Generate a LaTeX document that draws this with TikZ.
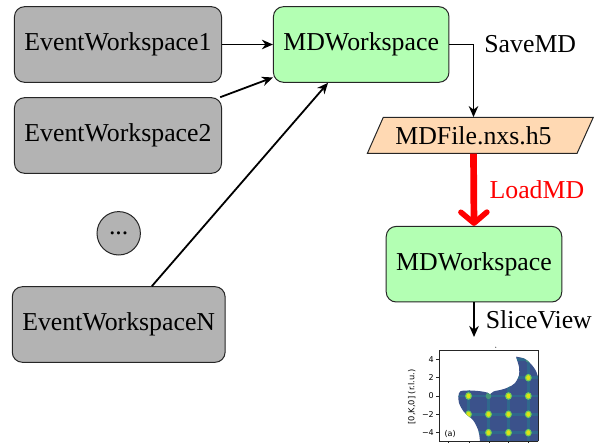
\documentclass[tikz,border=0pt]{standalone}
\usepackage{fontspec}
\setmainfont{Liberation Serif}
\newfontfamily\plotfont{DejaVu Sans}
\usetikzlibrary{arrows.meta}
\definecolor{boxgray}{HTML}{B3B3B3}
\definecolor{boxgreen}{HTML}{B3FFB3}
\definecolor{boxpeach}{HTML}{FFD9B3}
\definecolor{vbase}{HTML}{3B528B}
\definecolor{vgrid}{HTML}{2C728E}
\definecolor{vglow}{HTML}{6ECE58}
\definecolor{vspot}{HTML}{DDE318}
\tikzset{
  ws/.style={draw=black!85, line width=1pt, rounded corners=10pt, minimum height=75.6pt,
    inner xsep=10pt, font=\fontsize{25.8}{30}\selectfont},
  ewbox/.style={ws, fill=boxgray},
  mdbox/.style={ws, fill=boxgreen},
  conn/.style={line width=1.8pt, -{Stealth[length=11pt,width=9.5pt,inset=3.5pt]}},
  redconn/.style={draw=red, line width=6.7pt, -{Straight Barb[length=11pt,width=26pt,line width=5.5pt,round]}},
  lbl/.style={font=\fontsize{25.8}{30}\selectfont, anchor=west, inner sep=0pt},
  axline/.style={line width=0.8pt, draw=black!85},
  ticklbl/.style={font=\plotfont\fontsize{8}{9}\selectfont, inner sep=0pt},
}
\def\blobpath{plot[smooth,tension=0.5] coordinates {(516,356.7) (524,358.5) (531,364) (536,371) (538.3,378)} -- (538.3,441.5) -- (480,441.5) -- plot[smooth,tension=0.5] coordinates {(480,441.5) (478.5,431) (473.3,420.5) (464,412) (459,403) (458.5,396) (460.5,391.2) (470,390.5) (480,391.2) (487,392.5) (490,394.5)} -- plot[smooth,tension=0.5] coordinates {(490,394.5) (493.5,391.5) (501,389.8) (508,387.5) (514.5,383.5) (518.8,376) (519,367) (516,356.7)} -- cycle}
\begin{document}
\begin{tikzpicture}[x=1pt,y=-1pt]
\useasboundingbox (0,0) rectangle (600,443);
% nodes
\node[ewbox] (ew1) at (118,44.5) {EventWorkspace1};
\node[ewbox] (ew2) at (118,135.5) {EventWorkspace2};
\node[circle, draw=black!85, line width=1pt, fill=boxgray, minimum size=43.4pt, inner sep=0pt,
  font=\fontsize{25.8}{30}\selectfont] (dots) at (118.7,233.3) {...};
\node[ewbox] (ewn) at (118.7,324.5) {EventWorkspaceN};
\node[mdbox] (md1) at (361.2,44.5) {MDWorkspace};
\filldraw[draw=black!85, line width=1pt, fill=boxpeach]
  (367.3,153.5) -- (577,153.5) -- (593.3,117.3) -- (383.3,117.3) -- cycle;
\node[inner sep=0pt, minimum width=150pt, minimum height=36.2pt,
  font=\fontsize{25.8}{30}\selectfont] (file) at (473.5,135.4) {MDFile.nxs.h5};
\node[mdbox] (md2) at (474,264.2) {MDWorkspace};
\coordinate (plottop) at (474,337);
% connectors
\draw[conn] (ew1) -- (md1);
\draw[conn] (ew2) -- (md1);
\draw[conn] (ewn) -- (md1);
\draw[conn] (md1.east) -| node[pos=0.5, lbl, xshift=10pt] {SaveMD} (file.north);
\draw[redconn] (file.south) -- node[lbl, text=red, xshift=12.5pt] {LoadMD} (md2.north);
\draw[conn] (md2.south) -- node[lbl, xshift=11pt] {SliceView} (plottop);
% plot
\begin{scope}
  \clip \blobpath;
  \fill[vbase] (430,340) rectangle (545,445);
  \foreach \gx in {448.2,468.5,488.5,508.5,528.3}
    \draw[vgrid, line width=2.5pt, opacity=0.7] (\gx,340) -- (\gx,445);
  \foreach \gy in {359.3,377.7,396,414.3,432.7}
    \draw[vgrid, line width=2.5pt, opacity=0.7] (430,\gy) -- (545,\gy);
  \foreach \gx/\gy in {488.5/396,508.5/377.7,528.3/359.3,468.5/432.7,448.2/414.3}
    \fill[vgrid!60!vglow] (\gx,\gy) ellipse [x radius=2.8pt, y radius=3.2pt];
  \foreach \gx/\gy in {468.5/396,468.5/414.3,488.5/414.3,508.5/396,508.5/414.3,528.3/377.7,528.3/396,528.3/414.3,488.5/432.7,508.5/432.7,528.3/432.7} {
      \fill[vglow] (\gx,\gy) ellipse [x radius=3.4pt, y radius=3.8pt];
      \fill[vspot] (\gx,\gy) ellipse [x radius=2.1pt, y radius=2.5pt];
    }
\end{scope}
\draw[axline] (439.3,441.5) -- (439.3,350) -- (538.3,350) -- (538.3,441.5);
\draw[axline] (439.3,441.5) -- (538.3,441.5);
\foreach \tx in {448,469,489,508.7,528}
  \draw[axline] (\tx,441.5) -- (\tx,445);
\foreach \ty/\tl in {359.3/4,377.7/2,396/0,414.3/−2,432.7/−4} {
  \draw[axline] (436,\ty) -- (439.3,\ty);
  \node[ticklbl, anchor=east] at (434,\ty) {\tl};
}
\node[ticklbl, rotate=90, font=\plotfont\fontsize{8.3}{9}\selectfont] at (411.7,397) {[0,K,0] (r.l.u.)};
\node[ticklbl, anchor=west] at (444.3,434.3) {(a)};
\fill[black!70] (495.7,347.3) circle (0.6pt);
\end{tikzpicture}
\end{document}
